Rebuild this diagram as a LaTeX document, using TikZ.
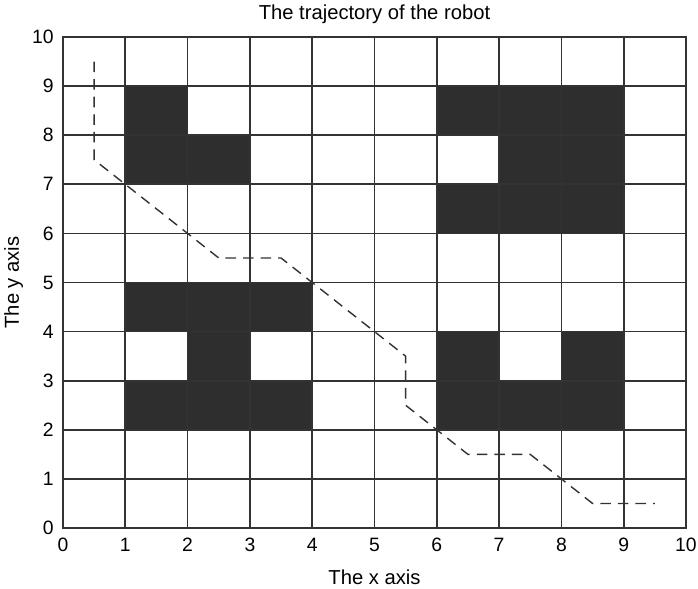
\documentclass[tikz,border=0pt]{standalone}
\usepackage{fontspec}
\setmainfont{Liberation Sans}
\usepackage{tikz}

\begin{document}
\begin{tikzpicture}[x=1.246cm, y=0.982cm,
  gridline/.style={draw=black!80, line width=1pt},
  obstacle/.style={fill=black!82},
  trajline/.style={draw=black!80, line width=0.8pt, dash pattern=on 6pt off 4pt},
  ticklbl/.style={font=\fontsize{11}{13}\selectfont},
  title/.style={font=\fontsize{11.5}{14}\selectfont}]

  \useasboundingbox (-1.011,-1.242) rectangle (10.193,10.754);

  % Obstacles
  \foreach \x/\y in {1/8, 1/7, 2/7,
                     6/8, 7/8, 8/8, 7/7, 8/7, 6/6, 7/6, 8/6,
                     1/4, 2/4, 3/4, 2/3, 1/2, 2/2, 3/2,
                     6/3, 8/3, 6/2, 7/2, 8/2}
    \fill[obstacle] (\x,\y) rectangle ++(1,1);

  % Grid and frame
  \foreach \i in {1,...,9} {
    \draw[gridline] (\i,0) -- (\i,10);
    \draw[gridline] (0,\i) -- (10,\i);
  }
  \draw[gridline] (0,0) rectangle (10,10);

  % Tick labels
  \foreach \i in {0,...,10} {
    \node[ticklbl, below] (xt\i) at (\i,-0.08) {\i};
    \node[ticklbl, left] (yt\i) at (-0.05,\i) {\i};
  }

  % Trajectory of the robot
  \draw[trajline] (0.5,9.5) -- (0.5,7.5) -- (1,7) -- (2,6) -- (2.5,5.5) -- (3.5,5.5)
    -- (4,5) -- (5,4) -- (5.5,3.5) -- (5.5,2.5) -- (6,2) -- (6.5,1.5) -- (7.5,1.5)
    -- (8,1) -- (8.5,0.5) -- (9.5,0.5);

  % Titles
  \node[title] (ttl) at (5,10.47) {The trajectory of the robot};
  \node[title] (xlbl) at (5,-1.0) {The x axis};
  \node[title, rotate=90] (ylbl) at (-0.79,5) {The y axis};

\end{tikzpicture}
\end{document}
